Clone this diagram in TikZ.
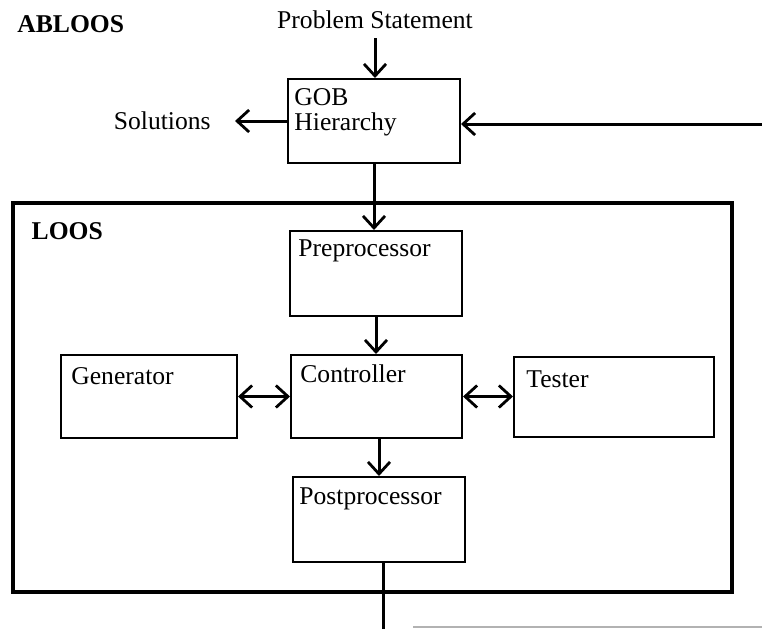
\documentclass[tikz,border=0pt]{standalone}
\usepackage{fontspec}
\setmainfont{Liberation Serif}
\usetikzlibrary{arrows.meta, positioning, calc}

\begin{document}
\begin{tikzpicture}[
      x=0.5pt, y=-0.5pt,
      font=\fontsize{12.8}{14.5}\selectfont,
      box/.style={draw, line width=1pt, inner sep=0pt},
      boxtext/.style={anchor=north west, inner sep=0pt, align=left},
      frame/.style={draw, line width=1.7pt, inner sep=0pt},
      arr/.style={-{Straight Barb[length=6pt, width=11pt, line width=1.4pt]}, line width=1.5pt},
      darr/.style={{Straight Barb[length=6pt, width=11pt, line width=1.4pt]}-{Straight Barb[length=6pt, width=11pt, line width=1.4pt]}, line width=1.5pt},
      wire/.style={line width=1.5pt},
    ]
    \useasboundingbox (0,0) rectangle (762,629);
    % --- outer title and inputs ---------------------------------------
    \node[anchor=west, inner sep=0pt, font=\fontsize{12.8}{14.5}\selectfont\bfseries] (abloos) at (17,24) {ABLOOS};
    \node[inner sep=0pt] (ps) at (375,20) {Problem Statement};
    \node[anchor=east, inner sep=0pt] (sol) at (211,121) {Solutions};
    % --- GOB hierarchy box --------------------------------------------
    \node[box, minimum width=86pt, minimum height=42pt] (gob) at (374,121) {};
    \node[boxtext] (gobtext) at ([shift={(7,10)}]gob.north west) {GOB\\[-2pt]Hierarchy};
    % --- the LOOS frame -----------------------------------------------
    \node[frame, minimum width=359.5pt, minimum height=194.5pt] (loos) at (372.5,397.5) {};
    \node[boxtext, font=\fontsize{12.8}{14.5}\selectfont\bfseries] (loostext) at ([shift={(20,21)}]loos.north west) {LOOS};
    % --- inner boxes --------------------------------------------------
    \node[box, minimum width=86pt, minimum height=42.5pt] (pre) at (376,273.5) {};
    \node[box, minimum width=85.5pt, minimum height=41.5pt] (ctrl) at (376.5,396.5) {};
    \node[box, minimum width=88pt, minimum height=41.5pt] (gen) at (149,396.5) {};
    \node[box, minimum width=100pt, minimum height=40pt] (test) at (614,397) {};
    \node[box, minimum width=86pt, minimum height=42.5pt] (post) at (379,519.5) {};
    \node[boxtext] (pretext) at ([shift={(9,9)}]pre.north west) {Preprocessor};
    \node[boxtext] (ctrltext) at ([shift={(10,10)}]ctrl.north west) {Controller};
    \node[boxtext] (gentext) at ([shift={(11,13)}]gen.north west) {Generator};
    \node[boxtext] (testtext) at ([shift={(13,14)}]test.north west) {Tester};
    \node[boxtext] (posttext) at ([shift={(7,11)}]post.north west) {Postprocessor};
    % --- free ends of the feedback wire -------------------------------
    \coordinate (fbin) at (762,124);
    \coordinate (out) at (383,629);
    \coordinate (fbl) at (413,627);
    \coordinate (fbr) at (762,627);
    % --- connectors ---------------------------------------------------
    \draw[arr] (ps.south |- 0,38) -- (ps.south |- gob.north);
    \draw[arr] (gob.west) -- ([xshift=12pt]sol.east);
    \draw[arr] (fbin) -- (fbin -| gob.east);
    \draw[arr] (gob.south) -- (gob.south |- pre.north);
    \draw[arr] (pre.south) -- (pre.south |- ctrl.north);
    \draw[darr] (gen.east) -- (gen.east -| ctrl.west);
    \draw[darr] (ctrl.east) -- (ctrl.east -| test.west);
    \draw[arr] (post.north |- ctrl.south) -- (post.north);
    \draw[wire] (out |- post.south) -- (out);
    \draw[gray!60, line width=0.6pt] (fbl) -- (fbr);
  \end{tikzpicture}
\end{document}
